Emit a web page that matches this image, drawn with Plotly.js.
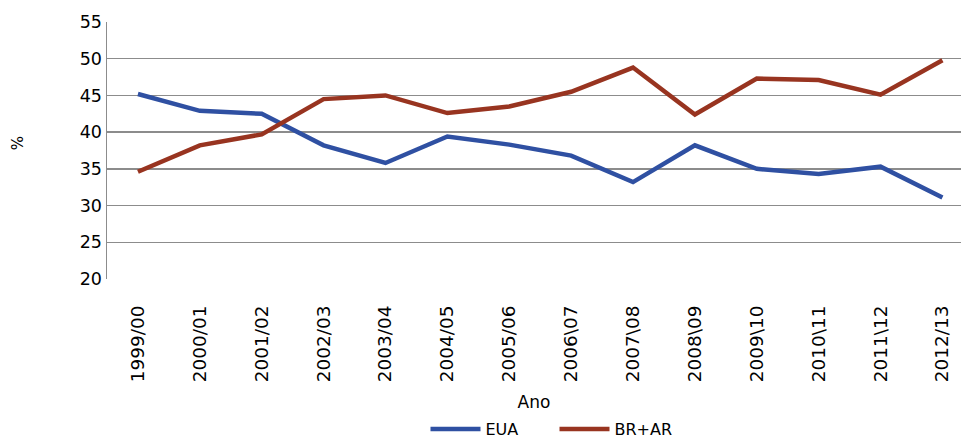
<!DOCTYPE html>
<html><head><meta charset="utf-8">
<script src="https://cdn.plot.ly/plotly-3.0.1.min.js"></script>
<style>html,body{margin:0;padding:0;background:#fff}#chart{width:961px;height:441px}</style>
</head><body><div id="chart"></div>
<script>
const categories = ["1999/00","2000/01","2001/02","2002/03","2003/04","2004/05","2005/06","2006\\07","2007\\08","2008\\09","2009\\10","2010\\11","2011\\12","2012/13"];
const eua = [45.2, 42.9, 42.5, 38.2, 35.8, 39.4, 38.3, 36.8, 33.2, 38.2, 35.0, 34.3, 35.3, 31.1];
const brar = [34.6, 38.2, 39.7, 44.5, 45.0, 42.6, 43.5, 45.5, 48.8, 42.4, 47.3, 47.1, 45.1, 49.8];
const yTicks = [20,25,30,35,40,45,50,55];

const fam = "DejaVu Sans, Verdana, sans-serif";
const font = {family: fam, size: 17, color: "#000"};
const traces = [
  {x: categories, y: eua, name: "EUA", type: "scatter", mode: "lines", line: {color: "#2F50A2", width: 4.5}},
  {x: categories, y: brar, name: "BR+AR", type: "scatter", mode: "lines", line: {color: "#983420", width: 4.5}}
];
const layout = {
  width: 961, height: 441,
  margin: {l: 107, r: 0, t: 22, b: 162, autoexpand: false},
  paper_bgcolor: "#fff", plot_bgcolor: "#fff",
  font: font,
  showlegend: true,
  legend: {orientation: "h", x: 0.524, xanchor: "center", yref: "container", y: 0.027, yanchor: "middle",
           font: {family: fam, size: 16, color: "#000"}, traceorder: "normal", itemwidth: 50, entrywidth: 64},
  xaxis: {
    type: "category", range: [-0.5, 13.3],
    tickangle: -90, showgrid: false, zeroline: false,
    showline: false, ticks: "outside", ticklen: 18, tickcolor: "rgba(0,0,0,0)",
    tickfont: {family: fam, size: 18.5, color: "#000"},
    title: {text: "Ano", font: font, standoff: 19}
  },
  yaxis: {
    range: [20, 55], tickvals: yTicks, ticktext: yTicks.map(String),
    showgrid: true, gridcolor: "#8c8c8c", gridwidth: 1.5,
    showline: true, linecolor: "#8c8c8c", linewidth: 1.5,
    zeroline: false, ticks: "", tickfont: {family: fam, size: 17.5, color: "#000"}
  },
  annotations: [{
    text: "%", xref: "paper", yref: "paper", x: -0.104, y: 0.529,
    xanchor: "center", yanchor: "middle", textangle: -90, showarrow: false,
    font: {family: fam, size: 15, color: "#000"}
  }]
};
Plotly.newPlot("chart", traces, layout, {displayModeBar: false, staticPlot: true});
</script></body></html>
